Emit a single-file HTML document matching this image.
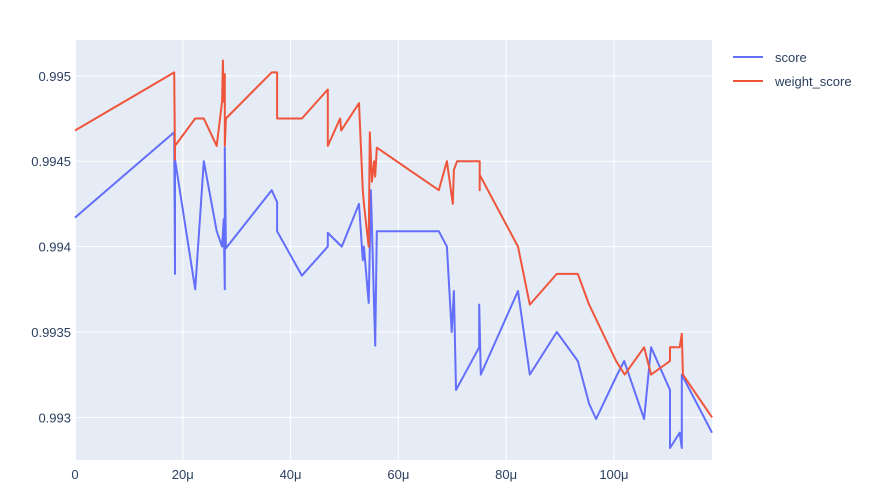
<!DOCTYPE html>
<html><head><meta charset="utf-8"><style>
html,body{margin:0;padding:0;background:#fff;width:889px;height:504px;overflow:hidden}
text{font-family:"Liberation Sans",sans-serif;fill:#2a3f5f;font-size:13px}
</style></head><body>
<svg id="chart" width="889" height="504" xmlns="http://www.w3.org/2000/svg">
<rect x="75" y="40" width="637" height="420" fill="#e5ecf6"/>
<g id="grid"></g><g id="series"></g><g id="ticks"></g>
<g>
<g><line x1="733" y1="57" x2="763" y2="57" stroke="#636efa" stroke-width="2"/><text x="775" y="62">score</text></g>
<g><line x1="733" y1="81" x2="763" y2="81" stroke="#ef553b" stroke-width="2"/><text x="775" y="86">weight_score</text></g>
</g>
</svg>
<script>
const xTicks=[0,20,40,60,80,100];
const xTickLabels=["0","20μ","40μ","60μ","80μ","100μ"];
const yTicks=[0.993,0.9935,0.994,0.9945,0.995];
const yTickLabels=["0.993","0.9935","0.994","0.9945","0.995"];
const scoreX=[0,18.4,18.55,18.55,22.3,23.9,26.3,27.3,27.6,27.8,27.8,28.0,36.5,37.5,37.5,42.1,46.9,46.9,49.5,52.7,53.4,53.6,54.5,54.9,55.7,56.0,67.5,69.0,69.9,70.3,70.7,75.0,75.0,75.3,82.2,84.4,89.4,93.3,95.4,96.7,100.6,101.9,105.6,106.9,110.4,110.4,112.2,112.6,112.6,118.2];
const scoreY=[0.99417,0.99467,0.99384,0.99451,0.99375,0.99450,0.99409,0.99400,0.99416,0.99375,0.99458,0.99399,0.99433,0.99426,0.99409,0.99383,0.99400,0.99408,0.99400,0.99425,0.99392,0.99400,0.99367,0.99433,0.99342,0.99409,0.99409,0.99400,0.99350,0.99374,0.99316,0.99341,0.99366,0.99325,0.99374,0.99325,0.99350,0.99333,0.99308,0.99299,0.99325,0.99333,0.99299,0.99341,0.99316,0.99282,0.99291,0.99282,0.99325,0.99291];
const wX=[0,18.4,18.55,18.55,22.3,23.9,26.3,27.3,27.45,27.6,27.8,27.8,28.0,36.5,37.5,37.5,42.1,46.9,46.9,49.2,49.4,52.7,53.4,53.6,54.5,54.7,55.1,55.5,55.7,56.0,67.5,69.0,70.1,70.3,70.9,75.1,75.1,75.1,82.2,84.4,89.4,93.3,95.4,100.4,102.0,105.6,106.9,110.4,110.4,112.2,112.6,112.8,118.2];
const wY=[0.99468,0.99502,0.99451,0.99459,0.99475,0.99475,0.99459,0.99485,0.99509,0.99485,0.99501,0.99459,0.99475,0.99502,0.99502,0.99475,0.99475,0.99492,0.99459,0.99475,0.99468,0.99484,0.99433,0.99425,0.99400,0.99467,0.99438,0.99450,0.99441,0.99458,0.99433,0.99450,0.99425,0.99445,0.99450,0.99450,0.99433,0.99442,0.99400,0.99366,0.99384,0.99384,0.99366,0.99333,0.99325,0.99341,0.99325,0.99333,0.99341,0.99341,0.99349,0.99325,0.99300];
const NS="http://www.w3.org/2000/svg";
const X0=75,X1=712,Y0=460,Y1=40,xMin=0,xMax=118.2,yMin=0.99275,yMax=0.99521;
const sx=v=>X0+(v-xMin)/(xMax-xMin)*(X1-X0);
const sy=v=>Y0-(v-yMin)/(yMax-yMin)*(Y0-Y1);
const grid=document.getElementById('grid'),ticks=document.getElementById('ticks'),series=document.getElementById('series');
xTicks.forEach((t,i)=>{
 const l=document.createElementNS(NS,'line');
 
 
 l.setAttribute('x1',sx(t));l.setAttribute('x2',sx(t));l.setAttribute('y1',Y1);l.setAttribute('y2',Y0);
 l.setAttribute('stroke','#fff');l.setAttribute('stroke-width',t===0?2:1);grid.appendChild(l);
 const tx=document.createElementNS(NS,'text');
 
 
 tx.setAttribute('x',sx(t));tx.setAttribute('y',Y0+19);tx.setAttribute('text-anchor','middle');
 tx.textContent=xTickLabels[i];ticks.appendChild(tx);
});
yTicks.forEach((t,i)=>{
 const l=document.createElementNS(NS,'line');
 
 
 l.setAttribute('x1',X0);l.setAttribute('x2',X1);l.setAttribute('y1',sy(t));l.setAttribute('y2',sy(t));
 l.setAttribute('stroke','#fff');l.setAttribute('stroke-width',1);grid.appendChild(l);
 const tx=document.createElementNS(NS,'text');
 
 
 tx.setAttribute('x',X0-4);tx.setAttribute('y',sy(t)+5);tx.setAttribute('text-anchor','end');
 tx.textContent=yTickLabels[i];ticks.appendChild(tx);
});
function draw(xs,ys,color,name){
 const p=document.createElementNS(NS,'polyline');
 
 
 p.setAttribute('points',xs.map((x,i)=>sx(x).toFixed(1)+','+sy(ys[i]).toFixed(1)).join(' '));
 p.setAttribute('fill','none');p.setAttribute('stroke',color);p.setAttribute('stroke-width',2);p.setAttribute('stroke-linejoin','round');
 series.appendChild(p);
}
draw(scoreX,scoreY,'#636efa','score-line');
draw(wX,wY,'#ef553b','weight-score-line');
</script>
</body></html>
